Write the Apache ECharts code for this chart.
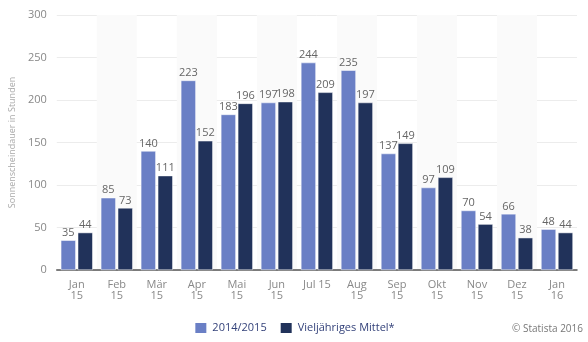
<!DOCTYPE html>
<html>
<head>
<meta charset="utf-8">
<script src="https://cdn.jsdelivr.net/npm/echarts@6/dist/echarts.min.js"></script>
<style>
  html, body { margin: 0; padding: 0; background: #fff; }
  #chart { width: 588px; height: 342px; }
</style>
</head>
<body>
<div id="chart"></div>
<script>
// Monthly sunshine duration (hours)
const months = ['Jan\n15', 'Feb\n15', 'Mär\n15', 'Apr\n15', 'Mai\n15', 'Jun\n15', 'Jul 15',
                'Aug\n15', 'Sep\n15', 'Okt\n15', 'Nov\n15', 'Dez\n15', 'Jan\n16'];
const season = [35, 85, 140, 223, 183, 197, 244, 235, 137, 97, 70, 66, 48];
const longTermMean = [44, 73, 111, 152, 196, 198, 209, 197, 149, 109, 54, 38, 44];
const yTicks = { min: 0, max: 300, interval: 50 };

const font = 'Open Sans, Lato, sans-serif';
const labelStyle = { show: true, position: 'top', distance: 2, color: '#666', fontSize: 11, fontFamily: font };

const chart = echarts.init(document.getElementById('chart'));
chart.setOption({
  animation: false,
  grid: { left: 40, right: 11, top: 15, bottom: 72 },
  xAxis: {
    type: 'category',
    data: months,
    axisLine: { lineStyle: { color: '#555', width: 1.5 } },
    axisTick: { show: false },
    axisLabel: { color: '#888', fontSize: 11, fontFamily: font, lineHeight: 11, margin: 9 },
    splitArea: { show: true, areaStyle: { color: ['rgba(255,255,255,0)', '#fafafa'] } }
  },
  yAxis: {
    type: 'value',
    min: yTicks.min, max: yTicks.max, interval: yTicks.interval,
    name: 'Sonnenscheindauer in Stunden',
    nameLocation: 'middle',
    nameGap: 30,
    nameTextStyle: { color: '#aaa', fontSize: 9, fontFamily: font },
    axisLine: { show: false },
    axisTick: { show: false },
    axisLabel: { color: '#888', fontSize: 11, fontFamily: font, margin: 10 },
    splitLine: { lineStyle: { color: '#ececec' } }
  },
  legend: {
    bottom: 2,
    left: 'center',
    itemWidth: 13, itemHeight: 12, itemGap: 12,
    icon: 'rect',
    textStyle: { color: '#34427a', fontSize: 11, fontFamily: font },
    data: ['2014/2015', 'Vieljähriges Mittel*']
  },
  graphic: [{
    type: 'text', right: 5, bottom: 8,
    style: { text: '© Statista 2016', fill: '#777', fontSize: 10, fontFamily: font }
  }],
  series: [
    {
      name: '2014/2015', type: 'bar', data: season,
      barWidth: 15, barGap: '13%',
      itemStyle: { color: '#6a7fc5', borderColor: '#fff', borderWidth: 0.5 },
      label: labelStyle
    },
    {
      name: 'Vieljähriges Mittel*', type: 'bar', data: longTermMean,
      barWidth: 15,
      itemStyle: { color: '#21325a', borderColor: '#fff', borderWidth: 0.5 },
      label: labelStyle
    }
  ]
});
</script>
</body>
</html>
